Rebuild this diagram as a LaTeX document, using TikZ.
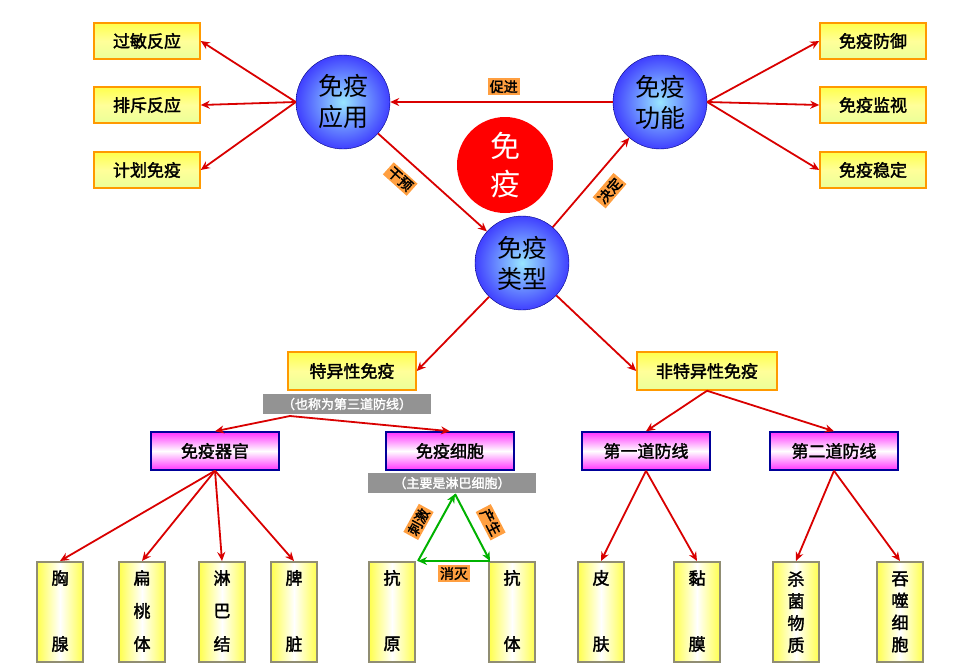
\documentclass[tikz,border=0pt]{standalone}
\usepackage{fontspec}
\newfontfamily\cjk[AutoFakeBold=2]{Noto Sans CJK SC}
\usetikzlibrary{shadings,arrows.meta}
\begin{document}
\begin{tikzpicture}[x=1pt,y=-1pt,
  every node/.style={font=\cjk},
  topbox/.style={draw=orange!80!yellow,line width=1.5pt,top color=yellow!70,bottom color=green!20!yellow!40,middle color=white!60!yellow,minimum width=106pt,minimum height=36pt,font=\cjk\bfseries\fontsize{17}{20}\selectfont,inner sep=0pt},
  midbox/.style={topbox,minimum width=128pt,minimum height=38pt},
  pinkbox/.style={draw=blue!60!black,line width=1.5pt,top color=magenta!80,bottom color=magenta!80,middle color=white,minimum width=128pt,minimum height=38pt,font=\cjk\bfseries\fontsize{17}{20}\selectfont,inner sep=0pt},
  tallbox/.style={draw=gray!80!olive,line width=2pt,left color=yellow!70,right color=yellow!70,middle color=white,minimum width=46pt,minimum height=100pt,inner sep=0pt},
  ball/.style={circle,draw=blue!50!black,inner color=blue!25!cyan!40,outer color=blue!75,minimum size=94pt,inner sep=0pt,align=center,font=\cjk\fontsize{25}{31}\selectfont},
  graylbl/.style={fill=gray!85,text=white,font=\cjk\bfseries\fontsize{13}{15}\selectfont,minimum width=168pt,minimum height=20pt,inner sep=0pt},
  orlbl/.style={fill=orange!75,font=\cjk\bfseries\fontsize{14}{16}\selectfont,inner sep=2pt},
  arr/.style={draw=red!85!black,line width=1.8pt,-{Stealth[length=9pt,width=8pt]}},
  garr/.style={draw=green!70!black,line width=2pt,-{Stealth[length=9pt,width=8pt]}},
  tt/.style={font=\cjk\bfseries\fontsize{17}{20}\selectfont}]
\path[use as bounding box,fill=white] (0,0) rectangle (975,667);
% circles
\node[ball] (app) at (343,102) {免疫\\应用};
\node[ball] (fun) at (660,102) {免疫\\功能};
\node[ball] (typ) at (522,263) {免疫\\类型};
\node[circle,fill=red,minimum size=96pt,inner sep=0pt,align=center,text=white,font=\cjk\fontsize{30}{38}\selectfont] (imm) at (505,165) {免\\疫};
% left / right boxes
\node[topbox] (l1) at (147,41) {过敏反应};
\node[topbox] (l2) at (147,105) {排斥反应};
\node[topbox] (l3) at (147,170) {计划免疫};
\node[topbox] (r1) at (873,41) {免疫防御};
\node[topbox] (r2) at (873,105) {免疫监视};
\node[topbox] (r3) at (873,170) {免疫稳定};
\foreach \b in {l1,l2,l3} \draw[arr] (app.west) -- (\b.east);
\foreach \b in {r1,r2,r3} \draw[arr] (fun.east) -- (\b.west);
\draw[arr] (fun.west) -- node[orlbl,above=6pt,pos=0.49]{促进} (app.east);
\draw[arr] (app) -- node[orlbl,pos=0.32,below=10pt,sloped]{干预} (typ);
\draw[arr] (typ) -- node[orlbl,pos=0.55,below=10pt,sloped]{决定} (fun);
% second level
\node[midbox] (spe) at (352,371) {特异性免疫};
\node[midbox,minimum width=140pt] (non) at (707,371) {非特异性免疫};
\draw[arr] (typ) -- (spe.east);
\draw[arr] (typ) -- (non.west);
\node[graylbl] (g1) at (347,404) {（也称为第三道防线）};
\node[pinkbox] (org) at (215,451) {免疫器官};
\node[pinkbox] (cel) at (450,451) {免疫细胞};
\node[pinkbox] (d1) at (646,451) {第一道防线};
\node[pinkbox] (d2) at (834,451) {第二道防线};
\coordinate (gs) at (290,416);
\draw[arr] (gs) -- (org.north);
\draw[arr] (gs) -- (cel.north);
\draw[arr] (non.south) -- (d1.north);
\draw[arr] (non.south) -- (d2.north);
\node[graylbl] (g2) at (452,483) {（主要是淋巴细胞）};
% bottom tall boxes
\foreach \n/\x/\a/\b in {xx/60/胸/腺, pz/294/脾/脏, ky/392/抗/原, kt/512/抗/体, pf/601/皮/肤, nm/697/黏/膜}{
  \node[tallbox] (\n) at (\x,612) {};
  \node[tt] at (\x,578) {\a};
  \node[tt] at (\x,644) {\b};
}
\foreach \n/\x/\a/\b/\c in {bt/142/扁/桃/体, lb/222/淋/巴/结}{
  \node[tallbox] (\n) at (\x,612) {};
  \node[tt] at (\x,578) {\a};
  \node[tt] at (\x,611) {\b};
  \node[tt] at (\x,644) {\c};
}
\foreach \n/\x/\a/\b/\c/\d in {sj/796/杀/菌/物/质, ts/900/吞/噬/细/胞}{
  \node[tallbox] (\n) at (\x,612) {};
  \node[tt,align=center,font=\cjk\bfseries\fontsize{17}{22}\selectfont] at (\x,612) {\a\\\b\\\c\\\d};
}
\foreach \b in {xx,bt,lb,pz} \draw[arr] (org.south) -- (\b.north);
\foreach \b in {pf,nm} \draw[arr] (d1.south) -- (\b.north);
\foreach \b in {sj,ts} \draw[arr] (d2.south) -- (\b.north);
% green triangle
\coordinate (tp) at (455,494);
\coordinate (tl) at (418,561);
\coordinate (tr) at (490,561);
\draw[garr] (tp) -- node[orlbl,pos=0.55,above=9pt,sloped]{产生} (tr);
\draw[garr] (tr) -- node[orlbl,below=3pt]{消灭} (tl);
\draw[garr] (tl) -- node[orlbl,pos=0.45,above=9pt,sloped]{刺激} (tp);
\end{tikzpicture}
\end{document}
